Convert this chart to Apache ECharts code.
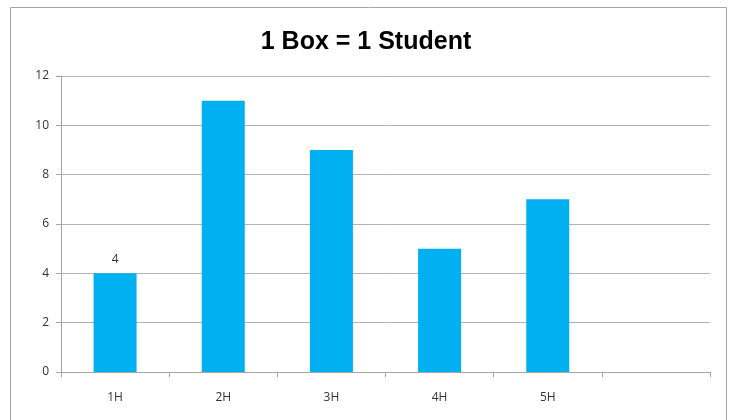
<!DOCTYPE html>
<html>
<head>
<meta charset="utf-8">
<script src="https://cdn.jsdelivr.net/npm/echarts@6/dist/echarts.min.js"></script>
<style>
  html, body { margin: 0; padding: 0; background: #fff; }
  #chart { width: 732px; height: 420px; }
</style>
</head>
<body>
<div id="chart"></div>
<script>
'use strict';
// 数据
var categories = ['1H', '2H', '3H', '4H', '5H', ''];
var students = [4, 11, 9, 5, 7, null];
var labelledIndex = [0]; // 只有第一根柱子显示数值

var chart = echarts.init(document.getElementById('chart'));

var barData = students.map(function (v, i) {
  return {
    value: v,
    label: { show: labelledIndex.indexOf(i) > -1 }
  };
});

var option = {
  backgroundColor: '#fff',
  animation: false,
  title: {
    text: '1 Box = 1 Student',
    left: 'center',
    top: 25,
    textStyle: {
      fontFamily: 'Liberation Sans',
      fontSize: 25,
      fontWeight: 'bold',
      color: '#000'
    }
  },
  graphic: [{
    type: 'rect',
    shape: { x: 10.5, y: 7.5, width: 716, height: 430 },
    style: { fill: 'none', stroke: '#a6a6a6', lineWidth: 1 },
    silent: true
  }],
  grid: {
    left: 61,
    right: 22,
    top: 76,
    bottom: 48
  },
  xAxis: {
    type: 'category',
    data: categories,
    axisLine: { lineStyle: { color: '#a6a6a6' } },
    axisTick: { show: true, interval: 0, length: 5, lineStyle: { color: '#a6a6a6' } },
    axisLabel: {
      margin: 20,
      color: '#333',
      fontFamily: 'Open Sans',
      fontSize: 12
    }
  },
  yAxis: {
    type: 'value',
    min: 0,
    max: 12,
    interval: 2,
    axisLine: { show: true, lineStyle: { color: '#a6a6a6' } },
    axisTick: { show: true, length: 5, lineStyle: { color: '#a6a6a6' } },
    axisLabel: {
      margin: 12,
      color: '#333',
      fontFamily: 'Open Sans',
      fontSize: 12
    },
    splitLine: { lineStyle: { color: '#b3b3b3' } }
  },
  series: [{
    name: 'students',
    type: 'bar',
    barWidth: 43,
    data: barData,
    itemStyle: { color: '#00b0f0' },
    label: {
      position: 'top',
      distance: 8,
      color: '#333',
      fontFamily: 'Open Sans',
      fontSize: 12
    }
  }]
};

chart.setOption(option);
</script>
</body>
</html>
